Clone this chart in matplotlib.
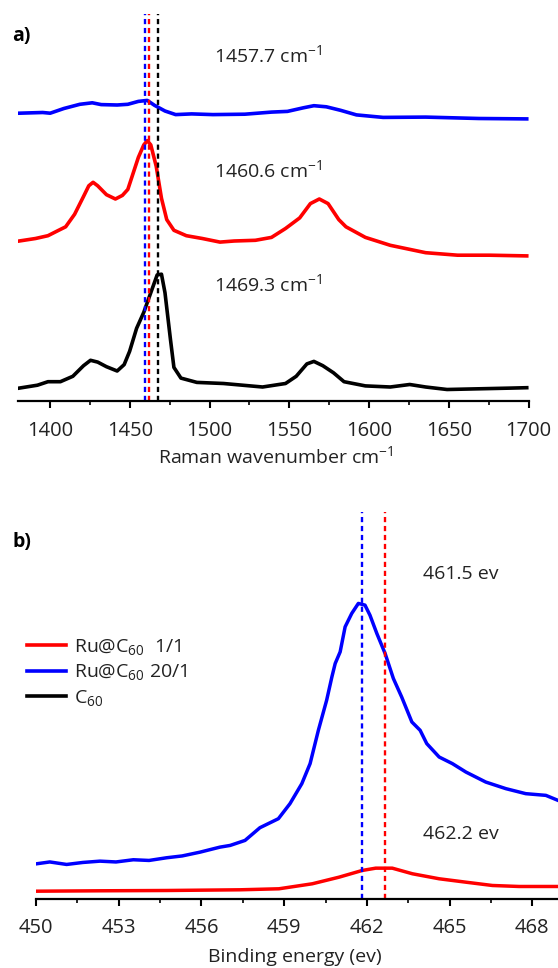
import matplotlib
matplotlib.use("Agg")
import matplotlib.pyplot as plt
from matplotlib.lines import Line2D
from matplotlib.ticker import MultipleLocator

plt.rcParams['font.family'] = ['Open Sans', 'DejaVu Sans']
plt.rcParams['mathtext.fontset'] = 'custom'
plt.rcParams['mathtext.rm'] = 'Open Sans'
plt.rcParams['mathtext.it'] = 'Open Sans:italic'
plt.rcParams['mathtext.bf'] = 'Open Sans:bold'

# ---------------- Panel a: Raman spectra (stacked, arbitrary units) ----------------
raman_blue_x = [1380.6, 1395.3, 1400.0, 1408.6, 1418.6, 1426.4, 1432.0, 1442.0, 1448.7, 1455.3,
                1460.9, 1465.4, 1472.0, 1478.7, 1488.7, 1502.1, 1522.1, 1538.8, 1548.8, 1558.8,
                1565.4, 1573.2, 1582.1, 1592.1, 1602.1, 1608.8, 1635.5, 1668.9, 1698.9]
raman_blue_y = [287.8, 288.5, 287.8, 292.5, 296.7, 298.2, 296.4, 296.0, 296.7, 299.6,
                300.6, 295.7, 290.0, 286.4, 287.1, 286.4, 286.8, 288.9, 289.6, 293.2,
                295.3, 294.2, 290.7, 286.1, 284.6, 283.6, 283.9, 282.5, 282.1]

raman_red_x = [1380.6, 1390.8, 1398.6, 1405.3, 1409.7, 1415.3, 1420.9, 1424.2, 1426.9, 1429.8,
               1435.3, 1440.9, 1445.3, 1448.7, 1452.0, 1455.3, 1458.7, 1460.9, 1463.1, 1466.5,
               1469.8, 1473.1, 1477.6, 1485.4, 1495.4, 1506.5, 1515.4, 1528.7, 1538.8, 1547.6,
               1556.5, 1563.2, 1568.8, 1574.3, 1581.0, 1585.5, 1597.7, 1613.3, 1635.5, 1655.5,
               1675.5, 1698.9]
raman_red_y = [160.0, 162.5, 165.3, 170.7, 174.2, 186.7, 204.5, 215.2, 218.7, 215.2,
               206.3, 202.0, 205.6, 211.6, 227.6, 243.6, 256.1, 260.4, 256.1, 234.7,
               202.7, 181.4, 170.7, 165.3, 162.5, 158.9, 160.0, 160.7, 163.6, 172.5,
               183.1, 197.4, 202.0, 197.4, 181.4, 174.2, 163.6, 155.7, 148.3, 145.8,
               145.8, 145.1]

raman_black_x = [1380.6, 1392.0, 1398.6, 1406.4, 1414.2, 1420.9, 1425.3, 1429.8, 1435.3, 1442.0,
                 1446.4, 1449.8, 1454.2, 1458.7, 1463.1, 1467.1, 1469.8, 1472.0, 1475.4, 1477.6,
                 1482.0, 1492.0, 1508.7, 1533.2, 1547.6, 1554.3, 1561.0, 1565.4, 1571.0, 1577.7,
                 1584.3, 1597.7, 1613.3, 1625.5, 1635.5, 1648.9, 1668.9, 1688.9, 1698.9]
raman_black_y = [12.9, 15.8, 19.3, 19.3, 24.7, 35.3, 40.7, 38.9, 34.3, 30.0,
                 36.4, 49.6, 72.7, 88.7, 108.3, 126.1, 126.8, 108.3, 62.0, 33.6,
                 22.9, 18.6, 17.5, 14.0, 17.5, 24.7, 37.1, 39.6, 35.3, 28.2,
                 19.3, 15.1, 14.0, 16.5, 14.0, 11.5, 12.2, 12.9, 13.3]

raman_marker_x = [1459.4, 1462.0, 1467.5]
raman_labels = ["1457.7 cm$^{-1}$", "1460.6 cm$^{-1}$", "1469.3 cm$^{-1}$"]
raman_label_y = [346, 231, 117]
raman_ticks = [1400, 1450, 1500, 1550, 1600, 1650, 1700]

# ---------------- Panel b: XPS spectra ----------------
xps_blue_x = [450.03, 450.5, 451.11, 451.7, 452.32, 452.9, 453.53, 454.1, 454.74, 455.3,
              455.95, 456.67, 457.04, 457.58, 458.12, 458.79, 459.21, 459.64, 459.94, 460.24,
              460.54, 460.73, 460.85, 461.03, 461.21, 461.45, 461.69, 461.93, 462.11, 462.36,
              462.66, 462.96, 463.26, 463.63, 463.93, 464.17, 464.62, 465.10, 465.59, 466.31,
              467.04, 467.76, 468.49, 468.93]
xps_blue_y = [34.7, 36.5, 34.0, 36.0, 37.3, 36.5, 38.7, 38.0, 40.7, 42.5,
              46.3, 51.3, 53.0, 58.0, 70.7, 79.7, 94.7, 114.7, 134.7, 168.0,
              198.0, 221.3, 234.7, 246.3, 271.3, 284.7, 294.7, 293.0, 283.0, 264.7,
              244.7, 219.7, 201.3, 176.3, 168.0, 154.7, 141.3, 134.7, 126.3, 116.3,
              109.7, 104.7, 103.0, 98.0]

xps_red_x = [450.03, 452.32, 454.74, 457.40, 458.81, 460.02, 460.99, 461.83, 462.32, 462.92,
             463.65, 464.62, 465.59, 466.55, 467.52, 468.93]
xps_red_y = [7.3, 7.7, 8.0, 8.7, 9.7, 14.7, 21.3, 28.0, 30.3, 30.3,
             24.7, 19.7, 16.3, 13.0, 12.0, 12.0]

xps_marker_x = [461.81, 462.66]
xps_labels = ["461.5 ev", "462.2 ev"]
xps_label_y = [324, 64.7]
xps_ticks = [450, 453, 456, 459, 462, 465, 468]

legend_labels = ["Ru@C$_{60}$  1/1", "Ru@C$_{60}$ 20/1", "C$_{60}$"]
legend_colors = ["#ff0000", "#0000ff", "#000000"]

W, H = 558, 968
fig = plt.figure(figsize=(W / 100, H / 100), dpi=100)

def px_rect(l, t, r, b):
    return [l / W, 1 - b / H, (r - l) / W, (b - t) / H]

BLUE, RED, BLACK = "#0000ff", "#ff0000", "#000000"
TXT = "#222222"
dash = (0, (2.2, 1.6))

def style_axis(ax):
    for s in ("left", "right", "top"):
        ax.spines[s].set_visible(False)
    ax.spines["bottom"].set_linewidth(1.6)
    ax.set_yticks([])
    ax.tick_params(axis="x", which="major", length=5, width=1.5, labelsize=14.5, pad=9.3,
                   colors="black", labelcolor=TXT)
    ax.tick_params(axis="x", which="minor", length=3, width=1.2)

# Panel a
axa = fig.add_axes(px_rect(18.3, 14, 528.5, 401))
axa.plot(raman_blue_x, raman_blue_y, color=BLUE, lw=2.6, solid_joinstyle="round")
axa.plot(raman_red_x, raman_red_y, color=RED, lw=2.6, solid_joinstyle="round")
axa.plot(raman_black_x, raman_black_y, color=BLACK, lw=2.6, solid_joinstyle="round")
for xv, c in zip(raman_marker_x, [BLUE, RED, BLACK]):
    axa.axvline(xv, color=c, lw=1.7, linestyle=dash)
for lab, yv in zip(raman_labels, raman_label_y):
    axa.text(1502.5, yv, lab, fontsize=14, va="center", ha="left", color=TXT)
axa.set_xlim(1380, 1700)
axa.set_ylim(0, 387)
axa.set_xticks(raman_ticks)
axa.xaxis.set_minor_locator(MultipleLocator(25))
style_axis(axa)

# Panel b
axb = fig.add_axes(px_rect(36, 512, 558, 898.5))
axb.plot(xps_blue_x, xps_blue_y, color=BLUE, lw=2.5, solid_joinstyle="round")
axb.plot(xps_red_x, xps_red_y, color=RED, lw=2.5, solid_joinstyle="round")
for xv, c in zip(xps_marker_x, [BLUE, RED]):
    axb.axvline(xv, color=c, lw=1.7, linestyle=dash)
for lab, yv in zip(xps_labels, xps_label_y):
    axb.text(464.04, yv, lab, fontsize=14, va="center", ha="left", color=TXT)
axb.set_xlim(450, 468.93)
axb.set_ylim(0, 386)
axb.set_xticks(xps_ticks)
axb.xaxis.set_minor_locator(MultipleLocator(1.5))
style_axis(axb)

handles = [Line2D([0], [0], color=c, lw=2.6) for c in legend_colors]
fig.legend(handles, legend_labels, loc="upper left", bbox_to_anchor=(26.7 / W, 1 - 637 / H),
           frameon=False, fontsize=14, handlelength=2.0, handletextpad=0.45,
           labelspacing=0.28, borderpad=0, borderaxespad=0, labelcolor=TXT)

fig.text(12.5 / W, 1 - 36 / H, "a)", fontsize=14, fontweight="bold", va="center", ha="left")
fig.text(12.7 / W, 1 - 542 / H, "b)", fontsize=14, fontweight="bold", va="center", ha="left")
fig.text(276 / W, 1 - 456 / H, "Raman wavenumber cm$^{-1}$", fontsize=14, va="center", ha="center", color=TXT)
fig.text(295 / W, 1 - 957 / H, "Binding energy (ev)", fontsize=14, va="center", ha="center", color=TXT)

fig.savefig("out.png", dpi=100)
